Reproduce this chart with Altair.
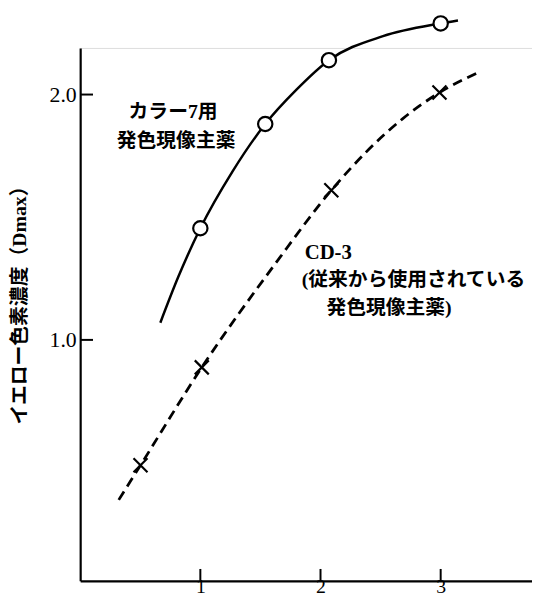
import altair as alt
import pandas as pd

# --- data ---
new_x = [1.0, 1.54, 2.07, 3.0]
new_y = [1.455, 1.88, 2.14, 2.29]
new_curve_x = [0.667, 0.815, 1.0, 1.267, 1.54, 1.80, 2.07, 2.52, 3.0, 3.144]
new_curve_y = [1.07, 1.255, 1.455, 1.686, 1.88, 2.02, 2.14, 2.238, 2.29, 2.302]

cd3_x = [0.502, 1.012, 2.09, 2.99]
cd3_y = [0.489, 0.888, 1.61, 2.008]
cd3_curve_x = [0.321, 0.502, 1.012, 1.638, 2.09, 2.68, 2.99, 3.309]
cd3_curve_y = [0.348, 0.489, 0.888, 1.32, 1.61, 1.90, 2.008, 2.089]

x_ticks = [1, 2, 3]
y_ticks = [1.0, 2.0]

y_title = "イエロー色素濃度（Dmax）"
label_new = ["カラー7用", "発色現像主薬"]
label_cd3 = ["CD-3", "(従来から使用されている", "発色現像主薬)"]

W, H = 457, 539
XDOM = [0, 3.76]
YDOM = [0.018, 2.19]
FONT = "Liberation Serif, Noto Sans CJK JP"

xs = alt.Scale(domain=XDOM, nice=False, zero=False)
ys = alt.Scale(domain=YDOM, nice=False, zero=False)

new_curve = pd.DataFrame({"x": new_curve_x, "y": new_curve_y})
new_pts = pd.DataFrame({"x": new_x, "y": new_y})
cd3_curve = pd.DataFrame({"x": cd3_curve_x, "y": cd3_curve_y})
cd3_pts = pd.DataFrame({"x": cd3_x, "y": cd3_y})

base_x_axis = alt.Axis(
    values=x_ticks, format="d", ticks=False, tickSize=0, grid=False,
    domainColor="black", domainWidth=2.2, labelFont="Liberation Serif",
    labelFontSize=20, labelColor="black", labelBaseline="alphabetic",
    labelPadding=12, title=None,
)
base_y_axis = alt.Axis(
    values=y_ticks, format=".1f", ticks=False, tickSize=0, grid=False,
    domainColor="black", domainWidth=2.2, labelFont="Liberation Serif",
    labelFontSize=22, labelColor="black", labelPadding=4,
    title=y_title, titleFont=FONT, titleFontSize=20, titleFontWeight="bold",
    titleColor="black", titleAngle=270, titleX=-61, titleY=255,
    titleAlign="center", titleBaseline="middle",
)

line_new = alt.Chart(new_curve).mark_line(
    color="black", strokeWidth=2.5, interpolate="monotone"
).encode(
    x=alt.X("x:Q", scale=xs, axis=base_x_axis),
    y=alt.Y("y:Q", scale=ys, axis=base_y_axis),
    order="x:Q",
)

line_cd3 = alt.Chart(cd3_curve).mark_line(
    color="black", strokeWidth=2.8, strokeDash=[10, 6], interpolate="monotone"
).encode(
    x=alt.X("x:Q", scale=xs),
    y=alt.Y("y:Q", scale=ys),
    order="x:Q",
)

pts_new = alt.Chart(new_pts).mark_point(
    shape="circle", fill="white", stroke="black", strokeWidth=2.2,
    size=210, opacity=1, fillOpacity=1,
).encode(x=alt.X("x:Q", scale=xs), y=alt.Y("y:Q", scale=ys))

pts_cd3 = alt.Chart(cd3_pts).mark_point(
    shape="M-1,-1L1,1M1,-1L-1,1", stroke="black", strokeWidth=2.2,
    size=200, opacity=1,
).encode(x=alt.X("x:Q", scale=xs), y=alt.Y("y:Q", scale=ys))

xt = alt.Chart(pd.DataFrame({"t": x_ticks})).mark_rule(
    color="black", strokeWidth=2
).encode(x=alt.X("t:Q", scale=xs), y=alt.value(H), y2=alt.value(H - 12))

yt = alt.Chart(pd.DataFrame({"t": y_ticks})).mark_rule(
    color="black", strokeWidth=2
).encode(y=alt.Y("t:Q", scale=ys), x=alt.value(0), x2=alt.value(13))


def label(text, x, y, size=20):
    return alt.Chart().mark_text(
        align="left", baseline="middle", font=FONT, fontSize=size,
        fontWeight="bold", color="black",
    ).encode(
        x=alt.datum(x, scale=xs), y=alt.datum(y, scale=ys),
        text=alt.value(text),
    )


labels = [
    label(label_new[0], 0.403, 1.928),
    label(label_new[1], 0.305, 1.811),
    label(label_cd3[0], 1.868, 1.352, 21),
    label(label_cd3[1], 1.844, 1.243),
    label(label_cd3[2], 2.049, 1.130),
]

chart = alt.layer(line_new, line_cd3, xt, yt, pts_new, pts_cd3, *labels).properties(
    width=W, height=H,
    autosize=alt.AutoSizeParams(type="none"),
    padding={"left": 73, "top": 37, "right": 0, "bottom": 16},
).configure_view(stroke=None).configure(background="white")

chart.save("out.html", embed_options={"renderer": "svg", "actions": False})
